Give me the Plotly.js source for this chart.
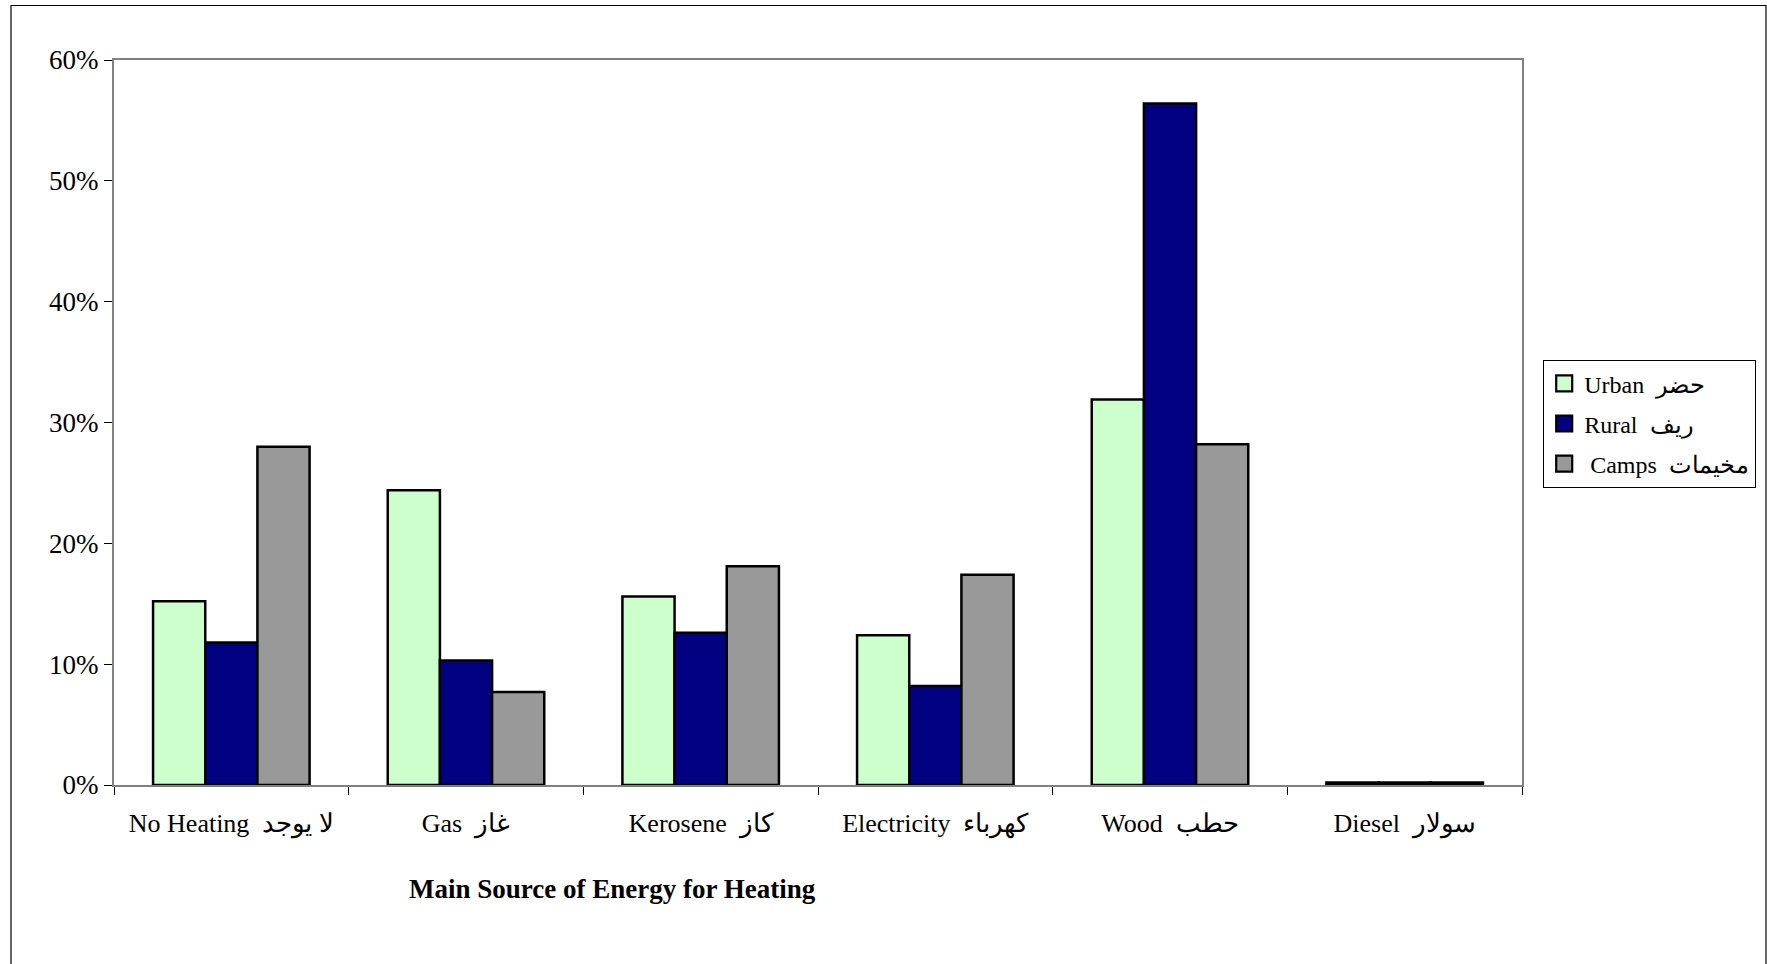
<!DOCTYPE html>
<html>
<head>
<meta charset="utf-8">
<script src="https://cdn.plot.ly/plotly-3.0.1.min.js"></script>
<style>
html,body{margin:0;padding:0;background:#fff;}
#chart{width:1767px;height:964px;}
</style>
</head>
<body>
<div id="chart"></div>
<script>
var NB = '\u00A0';
var categories = [
  'No Heating' + NB + NB + 'لا يوجد',
  'Gas' + NB + NB + 'غاز',
  'Kerosene' + NB + NB + 'كاز',
  'Electricity' + NB + NB + 'كهرباء',
  'Wood' + NB + NB + 'حطب',
  'Diesel' + NB + NB + 'سولار'
];
var urban = [0.152, 0.244, 0.156, 0.124, 0.319, 0.002];
var rural = [0.118, 0.103, 0.126, 0.082, 0.564, 0.002];
var camps = [0.280, 0.077, 0.181, 0.174, 0.282, 0.002];
var seriesNames = [
  'Urban' + NB + NB + 'حضر',
  'Rural' + NB + NB + 'ريف',
  NB + 'Camps' + NB + NB + 'مخيمات'
];
var seriesColors = ['#CCFFCC', '#000080', '#999999'];
var axisTitle = 'Main Source of Energy for Heating';

var W = 1767, H = 964;
var L = 114, R = 245, T = 60, B = 179;
var pw = W - L - R, ph = H - T - B;
function px(x){ return (x - L) / pw; }
function py(y){ return (H - B - y) / ph; }

var series = [urban, rural, camps];
var traces = series.map(function(vals, i){
  return {
    type: 'bar',
    x: categories,
    y: vals,
    name: seriesNames[i],
    showlegend: false,
    marker: {color: seriesColors[i], line: {color: '#000000', width: 2.5}},
    hoverinfo: 'x+y'
  };
});
// legend entries with larger square swatches
series.forEach(function(vals, i){
  traces.push({
    type: 'scatter', mode: 'markers',
    x: [null], y: [null],
    name: seriesNames[i],
    legendgroup: 'g' + i,
    showlegend: true,
    marker: {symbol: 'square', size: 16, color: seriesColors[i], line: {color: '#000000', width: 2.2}},
    hoverinfo: 'skip'
  });
});

var font = "'Liberation Serif', 'Times New Roman', 'DejaVu Serif', serif";
var layout = {
  width: W, height: H,
  margin: {l: L, r: R, t: T, b: B, pad: 0, autoexpand: false},
  paper_bgcolor: '#ffffff',
  plot_bgcolor: '#ffffff',
  barmode: 'group',
  bargap: 0.333,
  bargroupgap: 0,
  showlegend: true,
  font: {family: font, color: '#000000', size: 26},
  legend: {
    x: px(1543), y: py(360), xanchor: 'left', yanchor: 'top',
    bordercolor: '#000000', borderwidth: 1.2, bgcolor: '#ffffff',
    font: {family: font, size: 24, color: '#000000'},
    traceorder: 'grouped', tracegroupgap: 6,
    itemwidth: 30
  },
  xaxis: {
    type: 'category',
    showgrid: false,
    zeroline: false,
    showline: true, linecolor: '#808080', linewidth: 2, mirror: true,
    ticks: 'outside', tickson: 'boundaries', ticklen: 8, tickcolor: '#000000', tickwidth: 1,
    ticklabelstandoff: 14,
    tickfont: {family: font, size: 26, color: '#000000'},
    fixedrange: true
  },
  yaxis: {
    range: [0, 0.6],
    dtick: 0.1,
    tick0: 0,
    tickformat: '.0%',
    showgrid: false,
    zeroline: false,
    showline: true, linecolor: '#808080', linewidth: 2, mirror: true,
    ticks: 'outside', ticklen: 8, tickcolor: '#000000', tickwidth: 1,
    tickfont: {family: font, size: 27, color: '#000000'},
    fixedrange: true
  },
  annotations: [{
    text: '<b>' + axisTitle + '</b>',
    xref: 'paper', yref: 'paper',
    x: px(612), y: py(889), xanchor: 'center', yanchor: 'middle',
    showarrow: false,
    font: {family: font, size: 27, color: '#000000'}
  }],
  shapes: [{
    type: 'rect', xref: 'paper', yref: 'paper',
    x0: px(11), x1: px(1766), y0: py(5.5), y1: py(990),
    line: {color: '#000000', width: 1.2}, fillcolor: 'rgba(0,0,0,0)', layer: 'below'
  }]
};

Plotly.newPlot('chart', traces, layout, {displayModeBar: false, staticPlot: true});
</script>
</body>
</html>
